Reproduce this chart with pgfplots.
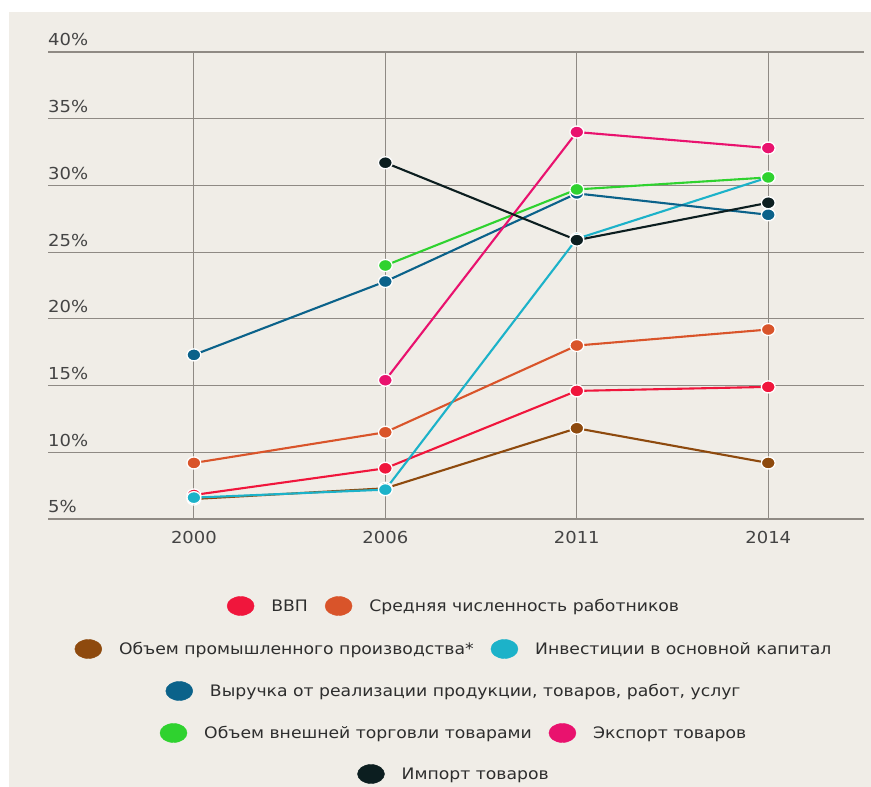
\documentclass[border=0pt]{standalone}
\usepackage{fontspec}
\setmainfont{DejaVu Sans}[FakeStretch=1.09]
\usepackage{pgfplots}
\pgfplotsset{compat=1.18}
\definecolor{bgc}{HTML}{F0EDE7}
\definecolor{gridc}{HTML}{8F8A84}
\definecolor{tickc}{HTML}{444444}
\definecolor{textc}{HTML}{2E2E2E}
\definecolor{cBVP}{HTML}{F0163C}
\definecolor{cSred}{HTML}{D9542A}
\definecolor{cProm}{HTML}{8E4A0E}
\definecolor{cInv}{HTML}{1CB2C9}
\definecolor{cVyr}{HTML}{0B628A}
\definecolor{cVnesh}{HTML}{2FD22F}
\definecolor{cExp}{HTML}{E9126E}
\definecolor{cImp}{HTML}{0C1E20}
\pgfplotsset{
  legE/.style={legend image code/.code={\fill[#1] (0pt,0pt) ellipse (13.5pt and 9.5pt);}},
  ser/.style={color=#1, line width=2.1pt, mark=*, mark size=6pt,
    mark options={fill=#1, draw=white, line width=1.3pt, xscale=1.15}},
  legrow/.style={scale only axis, width=1pt, height=1pt, hide axis,
    xmin=0, xmax=1, ymin=0, ymax=1, anchor=center,
    legend style={at={(0.5,0.5)}, anchor=center, draw=none, fill=none,
      column sep=17pt, font=\fontsize{15.8}{19}\selectfont,
      nodes={inner sep=0pt, text=textc}}},
}
\begin{document}
\begin{tikzpicture}
\fill[white] (0pt,0pt) rectangle (871pt,787pt);
\path[use as bounding box] (0pt,0pt) rectangle (871pt,787pt);
\fill[bgc] (9pt,0pt) rectangle (871pt,775pt);
\begin{axis}[
  at={(48pt,268pt)}, anchor=south west,
  scale only axis, width=816pt, height=467pt,
  xmin=-0.762, xmax=3.5, ymin=5, ymax=40,
  xtick={0,1,2,3}, xticklabels={2000,2006,2011,2014},
  ytick={5,10,15,20,25,30,35,40},
  yticklabels={5\%,10\%,15\%,20\%,25\%,30\%,35\%,40\%},
  axis line style={draw=none}, major tick length=0pt,
  grid=major, grid style={color=gridc, line width=1.2pt},
  xticklabel style={anchor=north, inner sep=0pt, yshift=-12pt, text=tickc, font=\fontsize{16.5}{19}\selectfont},
  yticklabel style={anchor=base west, inner sep=0pt, yshift=6pt, text=tickc, font=\fontsize{16.5}{19}\selectfont},
  clip=false,
]
\addplot[ser=cBVP] coordinates {(0,6.8) (1,8.8) (2,14.6) (3,14.9)};
\addplot[ser=cSred] coordinates {(0,9.2) (1,11.5) (2,18.0) (3,19.2)};
\addplot[ser=cProm] coordinates {(0,6.5) (1,7.3) (2,11.8) (3,9.2)};
\addplot[ser=cInv] coordinates {(0,6.6) (1,7.2) (2,26.0) (3,30.6)};
\addplot[ser=cVyr] coordinates {(0,17.3) (1,22.8) (2,29.4) (3,27.8)};
\addplot[ser=cVnesh] coordinates {(1,24.0) (2,29.7) (3,30.6)};
\addplot[ser=cExp] coordinates {(1,15.4) (2,34.0) (3,32.8)};
\addplot[ser=cImp] coordinates {(1,31.7) (2,25.9) (3,28.7)};
\end{axis}
\begin{axis}[legrow, at={(453pt,181pt)}, legend columns=2]
\addlegendimage{legE=cBVP}\addlegendentry{ВВП}
\addlegendimage{legE=cSred}\addlegendentry{Средняя численность работников}
\end{axis}
\begin{axis}[legrow, at={(453pt,138pt)}, legend columns=2]
\addlegendimage{legE=cProm}\addlegendentry{Объем промышленного производства*}
\addlegendimage{legE=cInv}\addlegendentry{Инвестиции в основной капитал}
\end{axis}
\begin{axis}[legrow, at={(453pt,96pt)}, legend columns=1]
\addlegendimage{legE=cVyr}\addlegendentry{Выручка от реализации продукции, товаров, работ, услуг}
\end{axis}
\begin{axis}[legrow, at={(453pt,54pt)}, legend columns=2]
\addlegendimage{legE=cVnesh}\addlegendentry{Объем внешней торговли товарами}
\addlegendimage{legE=cExp}\addlegendentry{Экспорт товаров}
\end{axis}
\begin{axis}[legrow, at={(453pt,13pt)}, legend columns=1]
\addlegendimage{legE=cImp}\addlegendentry{Импорт товаров}
\end{axis}
\end{tikzpicture}
\end{document}
